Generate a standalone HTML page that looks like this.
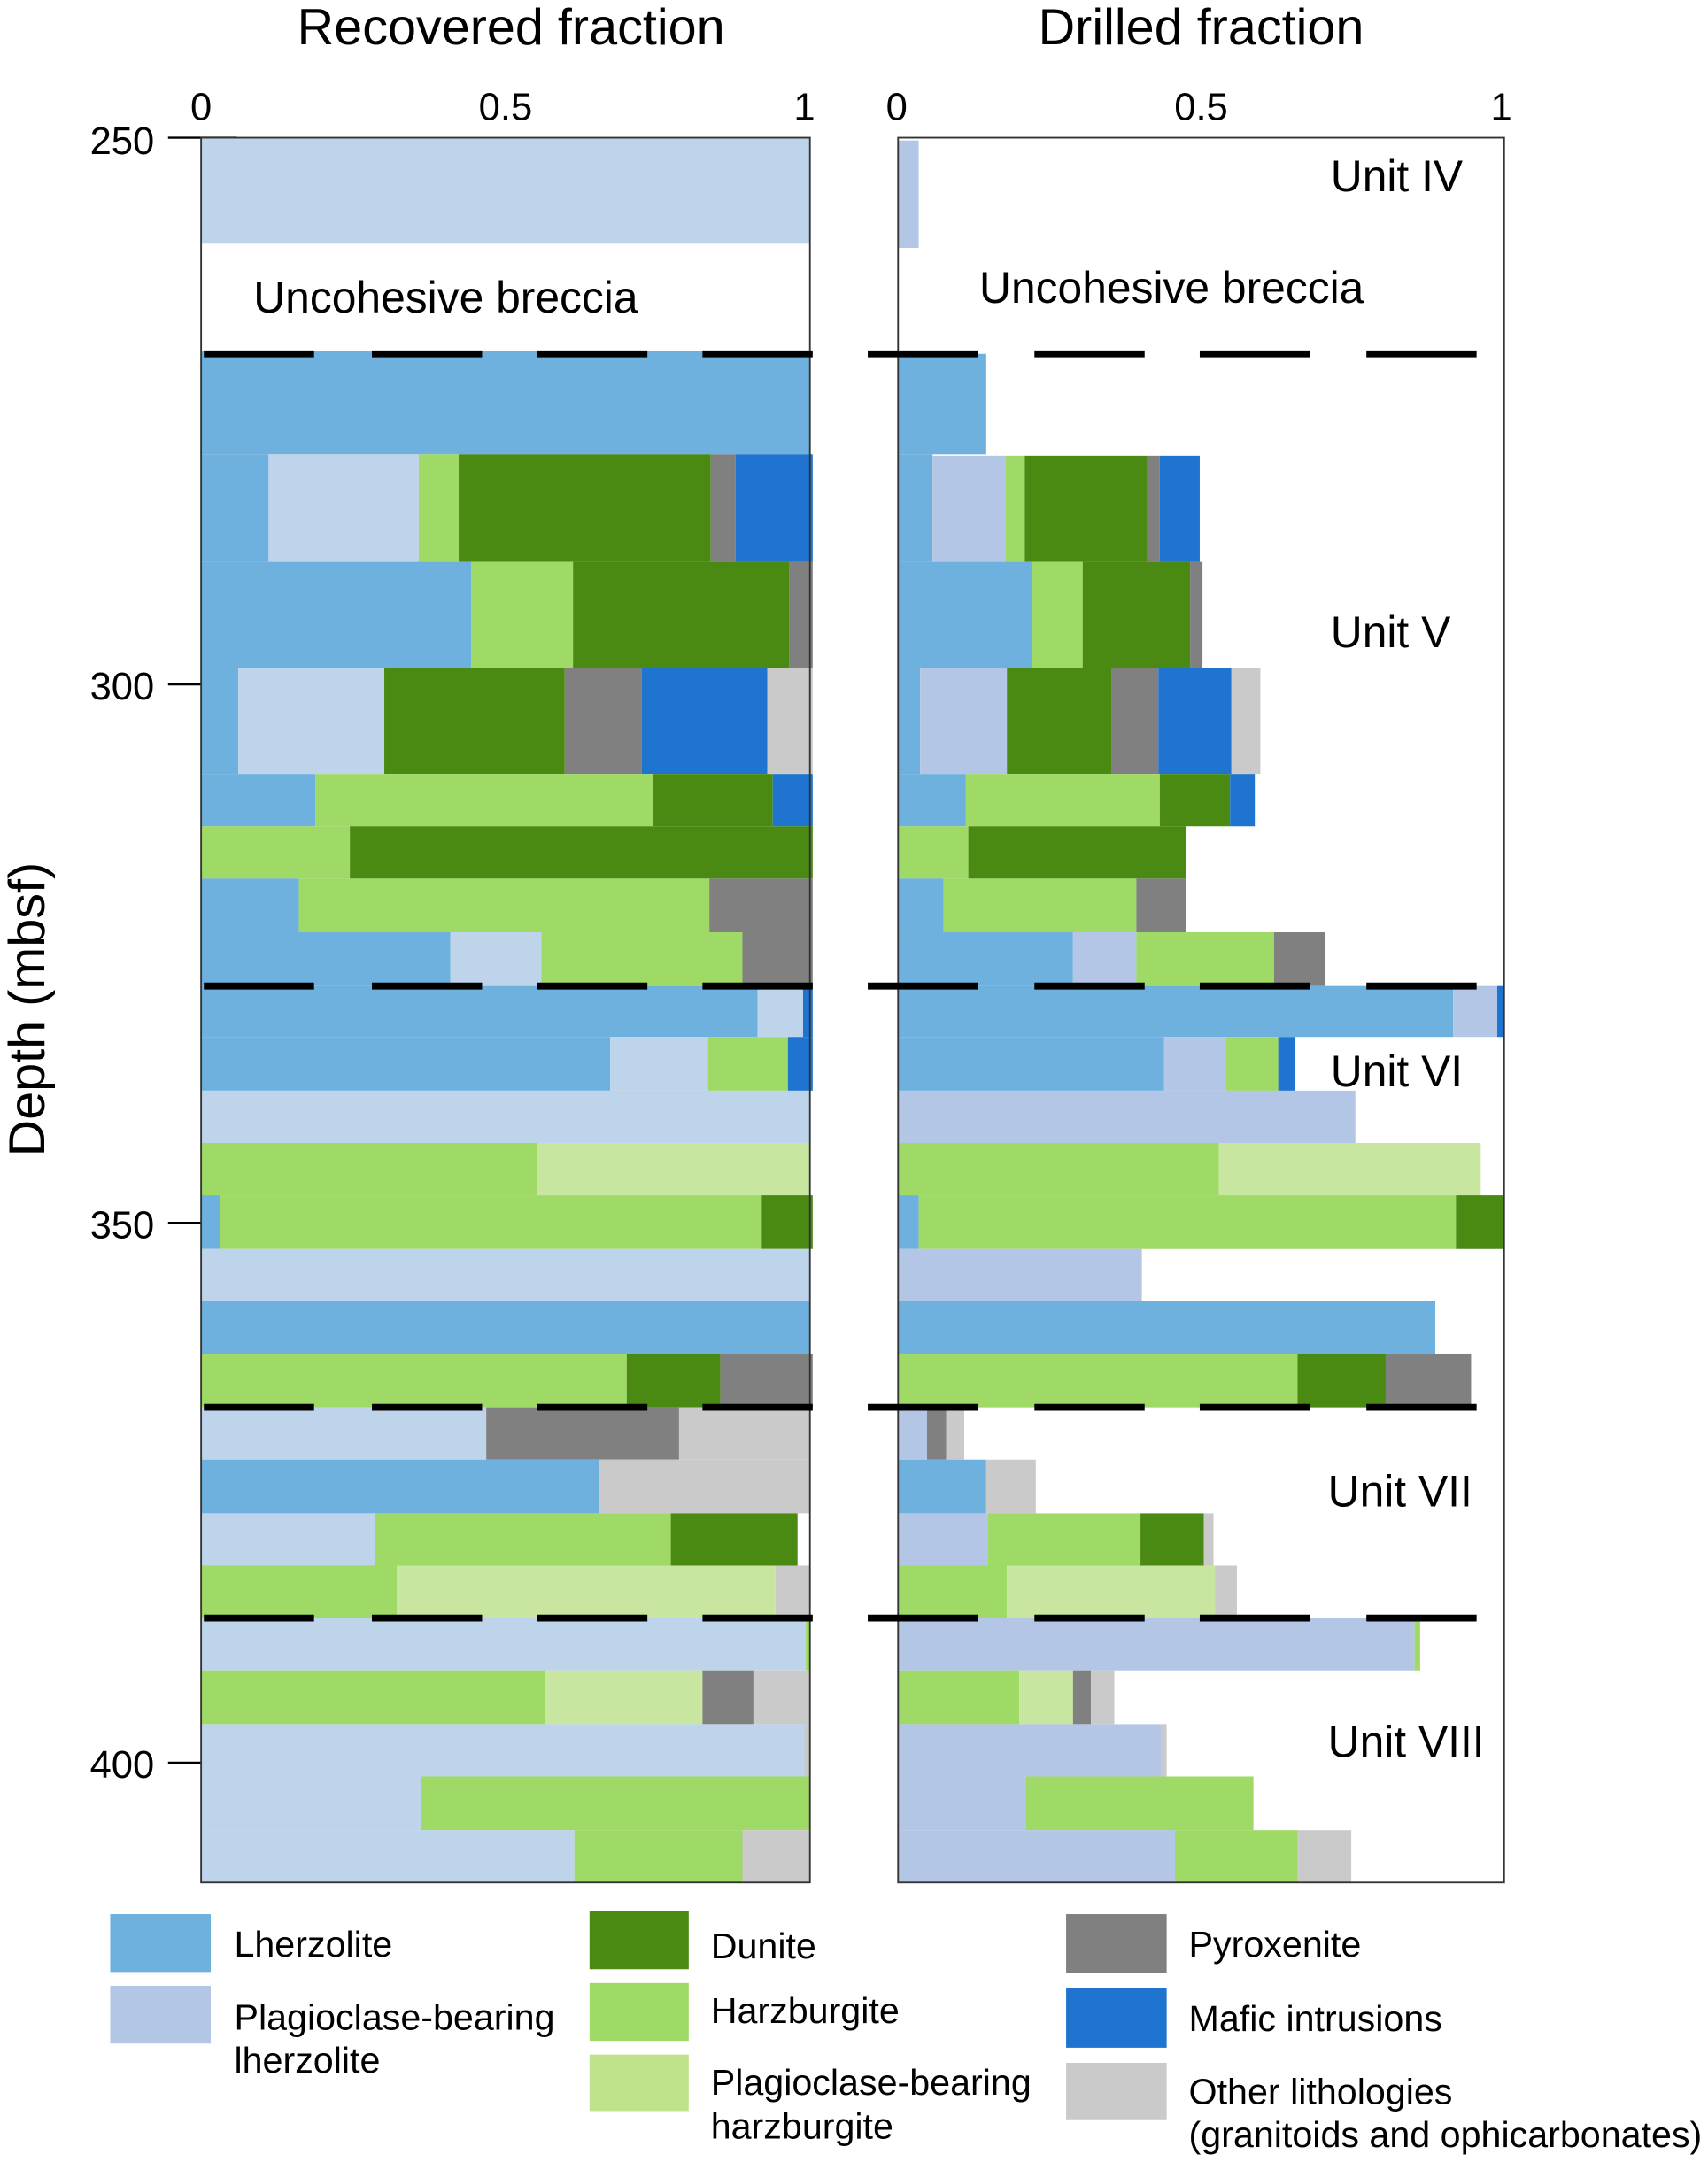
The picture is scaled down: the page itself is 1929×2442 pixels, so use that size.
<!DOCTYPE html>
<html><head><meta charset="utf-8"><style>
html,body{margin:0;padding:0;background:#fff}
svg{display:block}
text{font-family:"Liberation Sans",sans-serif;fill:#000}
.L{fill:#6eb0de}.P{fill:#bed4eb}.Q{fill:#b3c6e6}.D{fill:#4a8a13}.H{fill:#9fd966}.G{fill:#c8e6a0}.Y{fill:#808080}.M{fill:#1e74cf}.O{fill:#cacaca}
</style></head><body>
<svg width="1929" height="2442" viewBox="0 0 1240 1570" preserveAspectRatio="none" xmlns="http://www.w3.org/2000/svg">
<text x="371" y="32" font-size="37" text-anchor="middle">Recovered fraction</text>
<text x="872" y="32" font-size="37" text-anchor="middle">Drilled fraction</text>
<g font-size="28" text-anchor="middle">
<text x="146" y="87">0</text><text x="367" y="87">0.5</text><text x="584" y="87">1</text>
<text x="651" y="87">0</text><text x="872" y="87">0.5</text><text x="1090" y="87">1</text>
</g>
<g font-size="28" text-anchor="end">
<text x="112" y="112">250</text><text x="112" y="508">300</text><text x="112" y="899">350</text><text x="112" y="1291">400</text>
</g>
<g stroke="#000" stroke-width="1.5">
<line x1="122" y1="100" x2="172" y2="100"/><line x1="122" y1="497" x2="146" y2="497"/><line x1="122" y1="888" x2="146" y2="888"/><line x1="122" y1="1280" x2="146" y2="1280"/>
</g>
<text transform="translate(32,733) rotate(-90)" font-size="37" text-anchor="middle">Depth (mbsf)</text>

<!-- LEFT -->
<g>
<rect class="P" x="146" y="100" width="442" height="77"/>
<rect class="L" x="146" y="255" width="442" height="75"/>
<rect class="L" x="146" y="330" width="49" height="78"/><rect class="P" x="195" y="330" width="109" height="78"/><rect class="H" x="304" y="330" width="29" height="78"/><rect class="D" x="333" y="330" width="183" height="78"/><rect class="Y" x="516" y="330" width="18" height="78"/><rect class="M" x="534" y="330" width="56" height="78"/>
<rect class="L" x="146" y="408" width="196" height="77"/><rect class="H" x="342" y="408" width="74" height="77"/><rect class="D" x="416" y="408" width="157" height="77"/><rect class="Y" x="573" y="408" width="17" height="77"/>
<rect class="L" x="146" y="485" width="27" height="77"/><rect class="P" x="173" y="485" width="106" height="77"/><rect class="D" x="279" y="485" width="131" height="77"/><rect class="Y" x="410" y="485" width="56" height="77"/><rect class="M" x="466" y="485" width="91" height="77"/><rect class="O" x="557" y="485" width="33" height="77"/>
<rect class="L" x="146" y="562" width="83" height="38"/><rect class="H" x="229" y="562" width="245" height="38"/><rect class="D" x="474" y="562" width="87" height="38"/><rect class="M" x="561" y="562" width="29" height="38"/>
<rect class="H" x="146" y="600" width="108" height="38"/><rect class="D" x="254" y="600" width="336" height="38"/>
<rect class="L" x="146" y="638" width="71" height="39"/><rect class="H" x="217" y="638" width="298" height="39"/><rect class="Y" x="515" y="638" width="75" height="39"/>
<rect class="L" x="146" y="677" width="181" height="39"/><rect class="P" x="327" y="677" width="66" height="39"/><rect class="H" x="393" y="677" width="146" height="39"/><rect class="Y" x="539" y="677" width="51" height="39"/>
<rect class="L" x="146" y="716" width="404" height="37"/><rect class="P" x="550" y="716" width="33" height="37"/><rect class="M" x="583" y="716" width="7" height="37"/>
<rect class="L" x="146" y="753" width="297" height="39"/><rect class="P" x="443" y="753" width="71" height="39"/><rect class="H" x="514" y="753" width="58" height="39"/><rect class="M" x="572" y="753" width="18" height="39"/>
<rect class="P" x="146" y="792" width="442" height="38"/>
<rect class="H" x="146" y="830" width="244" height="38"/><rect class="G" x="390" y="830" width="198" height="38"/>
<rect class="L" x="146" y="868" width="14" height="39"/><rect class="H" x="160" y="868" width="393" height="39"/><rect class="D" x="553" y="868" width="37" height="39"/>
<rect class="P" x="146" y="907" width="442" height="38"/>
<rect class="L" x="146" y="945" width="442" height="38"/>
<rect class="H" x="146" y="983" width="309" height="39"/><rect class="D" x="455" y="983" width="68" height="39"/><rect class="Y" x="523" y="983" width="67" height="39"/>
<rect class="P" x="146" y="1022" width="207" height="38"/><rect class="Y" x="353" y="1022" width="140" height="38"/><rect class="O" x="493" y="1022" width="95" height="38"/>
<rect class="L" x="146" y="1060" width="289" height="39"/><rect class="O" x="435" y="1060" width="153" height="39"/>
<rect class="P" x="146" y="1099" width="126" height="38"/><rect class="H" x="272" y="1099" width="215" height="38"/><rect class="D" x="487" y="1099" width="92" height="38"/>
<rect class="H" x="146" y="1137" width="142" height="38"/><rect class="G" x="288" y="1137" width="275" height="38"/><rect class="O" x="563" y="1137" width="25" height="38"/>
<rect class="P" x="146" y="1175" width="439" height="38"/><rect class="H" x="585" y="1175" width="3" height="38"/>
<rect class="H" x="146" y="1213" width="250" height="39"/><rect class="G" x="396" y="1213" width="114" height="39"/><rect class="Y" x="510" y="1213" width="37" height="39"/><rect class="O" x="547" y="1213" width="41" height="39"/>
<rect class="P" x="146" y="1252" width="438" height="38"/><rect class="O" x="584" y="1252" width="4" height="38"/>
<rect class="P" x="146" y="1290" width="160" height="39"/><rect class="H" x="306" y="1290" width="282" height="39"/>
<rect class="P" x="146" y="1329" width="271" height="38"/><rect class="H" x="417" y="1329" width="122" height="38"/><rect class="O" x="539" y="1329" width="49" height="38"/>
</g>
<rect x="146" y="100" width="442" height="1267" fill="none" stroke="#333" stroke-width="1.2"/>

<!-- RIGHT -->
<g>
<rect class="Q" x="652" y="102" width="15" height="78"/>
<rect class="L" x="652" y="257" width="64" height="73"/>
<rect class="L" x="652" y="330" width="25" height="78"/><rect class="Q" x="677" y="331" width="53" height="77"/><rect class="H" x="730" y="331" width="14" height="77"/><rect class="D" x="744" y="331" width="89" height="77"/><rect class="Y" x="833" y="331" width="9" height="77"/><rect class="M" x="842" y="331" width="29" height="77"/>
<rect class="L" x="652" y="408" width="97" height="77"/><rect class="H" x="749" y="408" width="37" height="77"/><rect class="D" x="786" y="408" width="78" height="77"/><rect class="Y" x="864" y="408" width="9" height="77"/>
<rect class="L" x="652" y="485" width="16" height="77"/><rect class="Q" x="668" y="485" width="63" height="77"/><rect class="D" x="731" y="485" width="76" height="77"/><rect class="Y" x="807" y="485" width="34" height="77"/><rect class="M" x="841" y="485" width="53" height="77"/><rect class="O" x="894" y="485" width="21" height="77"/>
<rect class="L" x="652" y="562" width="49" height="38"/><rect class="H" x="701" y="562" width="141" height="38"/><rect class="D" x="842" y="562" width="51" height="38"/><rect class="M" x="893" y="562" width="18" height="38"/>
<rect class="H" x="652" y="600" width="51" height="38"/><rect class="D" x="703" y="600" width="158" height="38"/>
<rect class="L" x="652" y="638" width="33" height="39"/><rect class="H" x="685" y="638" width="140" height="39"/><rect class="Y" x="825" y="638" width="36" height="39"/>
<rect class="L" x="652" y="677" width="127" height="39"/><rect class="Q" x="779" y="677" width="46" height="39"/><rect class="H" x="825" y="677" width="100" height="39"/><rect class="Y" x="925" y="677" width="37" height="39"/>
<rect class="L" x="652" y="716" width="403" height="37"/><rect class="Q" x="1055" y="716" width="32" height="37"/><rect class="M" x="1087" y="716" width="5" height="37"/>
<rect class="L" x="652" y="753" width="193" height="39"/><rect class="Q" x="845" y="753" width="45" height="39"/><rect class="H" x="890" y="753" width="38" height="39"/><rect class="M" x="928" y="753" width="12" height="39"/>
<rect class="Q" x="652" y="792" width="332" height="38"/>
<rect class="H" x="652" y="830" width="233" height="38"/><rect class="G" x="885" y="830" width="190" height="38"/>
<rect class="L" x="652" y="868" width="15" height="39"/><rect class="H" x="667" y="868" width="390" height="39"/><rect class="D" x="1057" y="868" width="35" height="39"/>
<rect class="Q" x="652" y="907" width="177" height="38"/>
<rect class="L" x="652" y="945" width="390" height="38"/>
<rect class="H" x="652" y="983" width="290" height="39"/><rect class="D" x="942" y="983" width="64" height="39"/><rect class="Y" x="1006" y="983" width="62" height="39"/>
<rect class="Q" x="652" y="1022" width="21" height="38"/><rect class="Y" x="673" y="1022" width="14" height="38"/><rect class="O" x="687" y="1022" width="13" height="38"/>
<rect class="L" x="652" y="1060" width="64" height="39"/><rect class="O" x="716" y="1060" width="36" height="39"/>
<rect class="Q" x="652" y="1099" width="65" height="38"/><rect class="H" x="717" y="1099" width="111" height="38"/><rect class="D" x="828" y="1099" width="46" height="38"/><rect class="O" x="874" y="1099" width="7" height="38"/>
<rect class="H" x="652" y="1137" width="79" height="38"/><rect class="G" x="731" y="1137" width="151" height="38"/><rect class="O" x="882" y="1137" width="16" height="38"/>
<rect class="Q" x="652" y="1175" width="375" height="38"/><rect class="H" x="1027" y="1175" width="4" height="38"/>
<rect class="H" x="652" y="1213" width="88" height="39"/><rect class="G" x="740" y="1213" width="39" height="39"/><rect class="Y" x="779" y="1213" width="13" height="39"/><rect class="O" x="792" y="1213" width="17" height="39"/>
<rect class="Q" x="652" y="1252" width="191" height="38"/><rect class="O" x="843" y="1252" width="4" height="38"/>
<rect class="Q" x="652" y="1290" width="93" height="39"/><rect class="H" x="745" y="1290" width="165" height="39"/>
<rect class="Q" x="652" y="1329" width="201" height="38"/><rect class="H" x="853" y="1329" width="89" height="38"/><rect class="O" x="942" y="1329" width="39" height="38"/>
</g>
<rect x="652" y="100" width="440" height="1267" fill="none" stroke="#333" stroke-width="1.2"/>

<!-- dashes -->
<g stroke="#000" stroke-width="5">
<path d="M148 257H228M270 257H350M390 257H470M510 257H590M630 257H710M751 257H831M871 257H951M992 257H1072"/>
<path d="M148 716H228M270 716H350M390 716H470M510 716H590M630 716H710M751 716H831M871 716H951M992 716H1072"/>
<path d="M148 1022H228M270 1022H350M390 1022H470M510 1022H590M630 1022H710M751 1022H831M871 1022H951M992 1022H1072"/>
<path d="M148 1175H228M270 1175H350M390 1175H470M510 1175H590M630 1175H710M751 1175H831M871 1175H951M992 1175H1072"/>
</g>

<g font-size="32">
<text x="184" y="227">Uncohesive breccia</text>
<text x="711" y="220">Uncohesive breccia</text>
<text x="966" y="139">Unit IV</text>
<text x="966" y="470">Unit V</text>
<text x="966" y="789">Unit VI</text>
<text x="964" y="1094">Unit VII</text>
<text x="964" y="1276">Unit VIII</text>
</g>

<!-- legend -->
<rect class="L" x="80" y="1390" width="73" height="42"/>
<rect x="80" y="1442" width="73" height="42" fill="#b3c6e6"/>
<rect class="D" x="428" y="1388" width="72" height="42"/>
<rect class="H" x="428" y="1440" width="72" height="42"/>
<rect x="428" y="1492" width="72" height="41" fill="#bfe38a"/>
<rect class="Y" x="774" y="1390" width="73" height="43"/>
<rect class="M" x="774" y="1444" width="73" height="43"/>
<rect class="O" x="774" y="1498" width="73" height="41"/>
<g font-size="26.5">
<text x="170" y="1421">Lherzolite</text>
<text x="170" y="1474">Plagioclase-bearing</text>
<text x="170" y="1505">lherzolite</text>
<text x="516" y="1422">Dunite</text>
<text x="516" y="1469">Harzburgite</text>
<text x="516" y="1521">Plagioclase-bearing</text>
<text x="516" y="1553">harzburgite</text>
<text x="863" y="1421">Pyroxenite</text>
<text x="863" y="1475">Mafic intrusions</text>
<text x="863" y="1528">Other lithologies</text>
<text x="863" y="1559">(granitoids and ophicarbonates)</text>
</g>
</svg>
</body></html>
